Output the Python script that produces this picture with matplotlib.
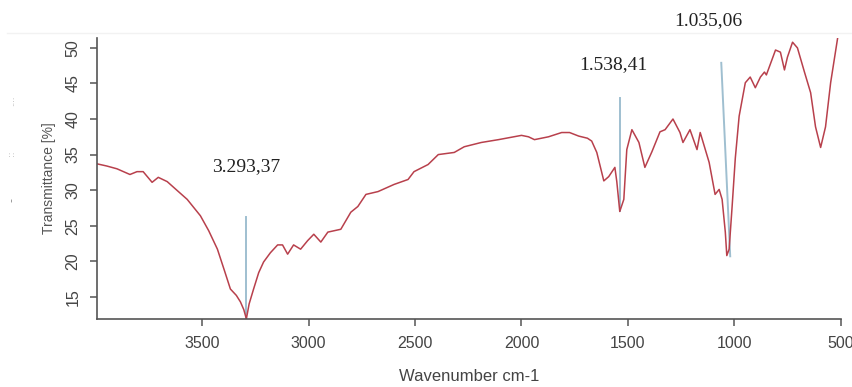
import matplotlib.pyplot as plt
import numpy as np

# FTIR spectrum read at points along the trace (wavenumber in cm-1, transmittance in %)
wavenumber = [3995, 3950, 3901, 3840, 3807, 3778, 3736, 3707, 3665, 3620, 3571,
              3509, 3470, 3429, 3395, 3368, 3340, 3321, 3305, 3293, 3280, 3259,
              3235, 3212, 3180, 3146, 3123, 3099, 3071, 3038, 3005, 2976, 2943,
              2910, 2849, 2802, 2769, 2731, 2674, 2599, 2533, 2505, 2439, 2391,
              2316, 2269, 2189, 2108, 2000, 1967, 1939, 1873, 1811, 1774, 1731,
              1690, 1670, 1646, 1613, 1590, 1561, 1552, 1538, 1519, 1505, 1481,
              1448, 1420, 1387, 1349, 1325, 1288, 1255, 1241, 1208, 1175, 1160,
              1118, 1090, 1071, 1057, 1042, 1035, 1024, 1010, 995, 977, 948, 925,
              901, 877, 858, 849, 806, 783, 764, 750, 726, 703, 670, 641, 618,
              594, 571, 547, 514]
transmittance = [33.7, 33.4, 33.0, 32.2, 32.6, 32.6, 31.1, 31.8, 31.2, 30.0, 28.7,
                 26.4, 24.3, 21.7, 18.6, 16.1, 15.2, 14.3, 13.2, 11.9, 14.0, 16.1,
                 18.4, 19.9, 21.2, 22.3, 22.3, 21.0, 22.3, 21.7, 22.9, 23.8, 22.7,
                 24.1, 24.5, 26.9, 27.7, 29.4, 29.8, 30.8, 31.5, 32.6, 33.6, 35.0,
                 35.3, 36.1, 36.7, 37.1, 37.7, 37.5, 37.1, 37.5, 38.1, 38.1, 37.6,
                 37.3, 36.9, 35.3, 31.3, 31.9, 33.2, 31.2, 27.0, 28.7, 35.7, 38.5,
                 36.7, 33.2, 35.4, 38.2, 38.5, 40.0, 38.1, 36.7, 38.5, 35.7, 38.1,
                 33.9, 29.4, 30.1, 28.7, 24.1, 20.8, 21.7, 27.7, 34.5, 40.4, 45.1,
                 45.9, 44.4, 45.9, 46.6, 46.2, 49.7, 49.4, 46.9, 48.7, 50.8, 50.0,
                 46.6, 43.7, 38.9, 36.0, 38.9, 45.1, 51.4]

# Marked bands: label text, position, and the marker line ends (wavenumber, %)
peak_labels = ["3.293,37", "1.538,41", "1.035,06"]
label_x = [3292, 1566, 1123]
label_y = [33.3, 47.6, 53.9]
marker_x0 = [3293, 1538, 1061]
marker_x1 = [3293, 1538, 1019]
marker_y0 = [26.2, 43.0, 47.9]
marker_y1 = [11.9, 27.0, 20.7]

fig = plt.figure(figsize=(8.53, 3.87), dpi=100)
ax = fig.add_axes([0.1137, 0.176, 0.8723, 0.726])

ax.plot(wavenumber, transmittance, color="#b8404c", lw=1.1)

for x0, x1, y0, y1 in zip(marker_x0, marker_x1, marker_y0, marker_y1):
    ax.plot([x0, x1], [y0, y1], color="#9fbfd0", lw=1.4, zorder=1)

for txt, x, y in zip(peak_labels, label_x, label_y):
    ax.text(x, y, txt, ha="center", va="center", fontsize=14,
            family="Liberation Serif", color="#222222", clip_on=False)

ax.set_xlim(3995, 498)
ax.set_ylim(11.9, 51.4)
ax.set_xticks([3500, 3000, 2500, 2000, 1500, 1000, 500])
ax.set_yticks([15, 20, 25, 30, 35, 40, 45, 50])

for side in ["top", "right"]:
    ax.spines[side].set_visible(False)
for side in ["left", "bottom"]:
    ax.spines[side].set_color("#555555")
    ax.spines[side].set_linewidth(1.2)

ax.tick_params(axis="both", direction="out", length=5, width=1.1,
               color="#555555", labelcolor="#444444", labelsize=11.5, pad=7)
for lbl in ax.get_xticklabels() + ax.get_yticklabels():
    lbl.set_family("Liberation Sans")
for lbl in ax.get_yticklabels():
    lbl.set_rotation(90)
    lbl.set_va("center")

ax.set_xlabel("Wavenumber cm-1", family="Liberation Sans", fontsize=12,
              color="#444444", labelpad=13)
ax.set_ylabel("Transmittance [%]", family="Liberation Sans", fontsize=10,
              color="#555555", labelpad=7)

# faint leftover marks at the left margin
fig.text(0.014, 0.483, "-", rotation=90, fontsize=8, color="#888888", ha="center", va="center")
fig.text(0.014, 0.605, "::", rotation=90, fontsize=6, color="#aaaaaa", ha="center", va="center")
fig.text(0.014, 0.74, "....", rotation=90, fontsize=6, color="#aaaaaa", ha="center", va="center")
fig.add_artist(plt.Line2D([0.008, 1.0], [0.915, 0.915], color="#f2f2f2", lw=1))

fig.savefig("out.png", dpi=100)
